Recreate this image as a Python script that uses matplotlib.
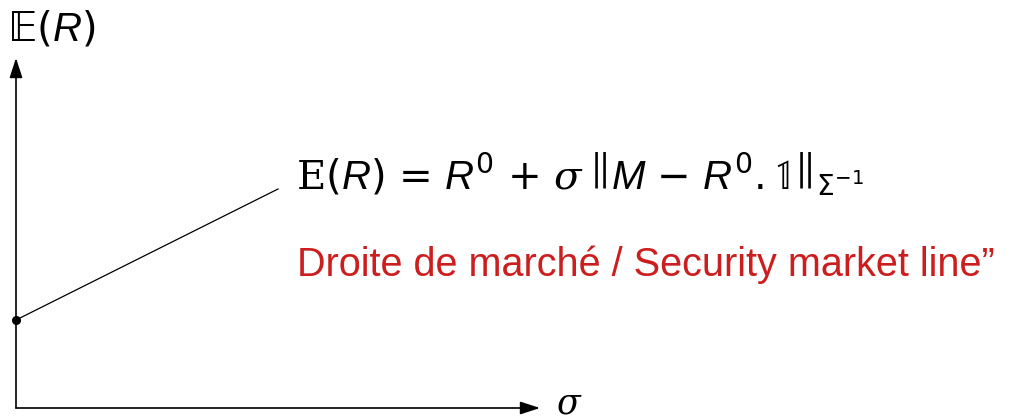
import matplotlib
matplotlib.use("Agg")
import matplotlib.pyplot as plt

# units: sigma on x, expected return on y (origin at the axes corner)
sigma_max = 524
ret_max = 350
R0 = 88
line_sigma = [0, 262]
line_ret = [R0, 219]

plt.rcParams['mathtext.fontset'] = 'custom'
plt.rcParams['mathtext.rm'] = 'DejaVu Sans'
plt.rcParams['mathtext.it'] = 'Liberation Sans:italic'
plt.rcParams['mathtext.sf'] = 'DejaVu Serif'
plt.rcParams['mathtext.tt'] = 'DejaVu Serif:italic'
plt.rcParams['mathtext.fallback'] = 'stix'

fig = plt.figure(figsize=(10.13, 4.19), dpi=100)
ax = fig.add_axes([0, 0, 1, 1])
ax.set_xlim(-16, 997)
ax.set_ylim(-11, 408)
ax.axis('off')

arrow = dict(arrowstyle='-|>,head_length=0.4,head_width=0.13', lw=1.2,
             color='black', mutation_scale=30, shrinkA=0, shrinkB=0)
ax.annotate('', xy=(sigma_max, 0), xytext=(0, 0), arrowprops=arrow)
ax.annotate('', xy=(0, ret_max), xytext=(0, 0), arrowprops=arrow)

ax.plot(line_sigma, line_ret, color='black', lw=0.9)
ax.plot([0], [R0], 'o', color='black', ms=5.5)

ax.text(35, 379, r'$\mathrm{𝔼}(R)$', fontsize=29, ha='center', va='center')
ax.text(553, 5, r'$\mathtt{\sigma}$', fontsize=25, ha='center', va='center')

ax.text(280, 219,
        r'$\mathsf{E}(R)\,=\,R^0\,+\,\mathtt{\sigma}\;\left\Vert M\,-\,R^0.\mathbb{1}\right\Vert_{\Sigma^{-1}}$',
        fontsize=29, ha='left', va='baseline')
ax.text(281, 132, 'Droite de marché / Security market line”', fontsize=28.5,
        family='Liberation Sans', color='#CC1E1E', ha='left', va='baseline')

fig.savefig('out.png', dpi=100)
